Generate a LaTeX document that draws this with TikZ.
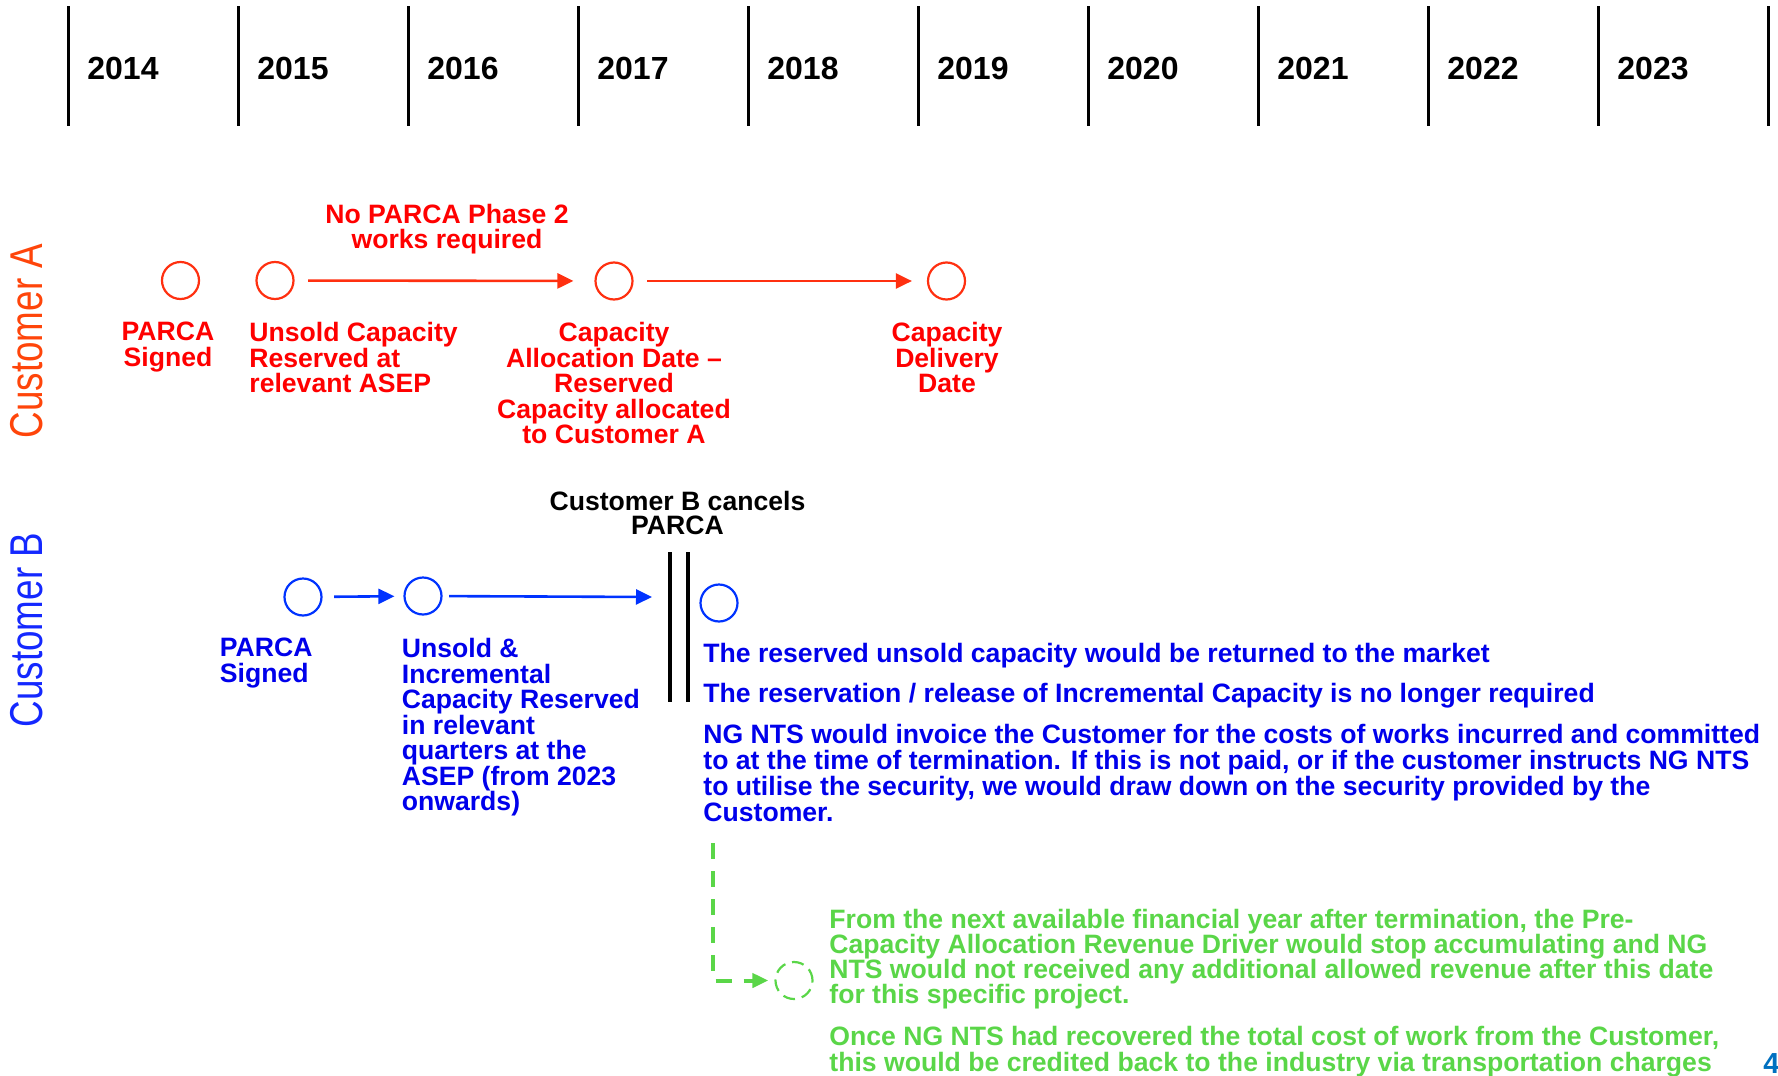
\documentclass[tikz,border=0pt]{standalone}
\usepackage{fontspec}
\setmainfont{Liberation Sans}
\usetikzlibrary{arrows.meta}

\definecolor{ared}{RGB}{255,0,0}
\definecolor{aline}{RGB}{255,48,16}
\definecolor{aname}{RGB}{255,69,10}
\definecolor{bblue}{RGB}{0,0,235}
\definecolor{bline}{RGB}{0,51,255}
\definecolor{bname}{RGB}{20,40,255}
\definecolor{cgreen}{RGB}{90,214,72}
\definecolor{pageno}{RGB}{0,112,192}

\lineskiplimit=-20pt
\lineskip=0pt

\begin{document}
\begin{tikzpicture}[x=0.5pt,y=-0.5pt,
    year/.style={font=\bfseries\fontsize{16}{18}\selectfont, anchor=west, inner sep=0pt},
    yearline/.style={line width=1.6pt},
    milestone/.style={circle, draw, line width=1.1pt, minimum size=18.5pt, inner sep=0pt},
    arr/.style={line width=1.3pt, -{Triangle[length=8pt,width=7.5pt]}},
    who/.style={font=\fontsize{23}{26}\selectfont, rotate=90, inner sep=0pt},
    redtxt/.style={text=ared, font=\bfseries\fontsize{13.3}{12.75}\selectfont, inner sep=0pt},
    bluetxt/.style={text=bblue, font=\bfseries\fontsize{13.3}{12.75}\selectfont, inner sep=0pt, align=left, anchor=north west},
    greentxt/.style={text=cgreen, font=\bfseries\fontsize{13.3}{12.5}\selectfont, inner sep=0pt, align=left, anchor=north west},
    bar/.style={line width=2.1pt}
  ]
    \useasboundingbox (0,0) rectangle (1778,1076);

    % years
    \draw[yearline] (68.5,6) -- (68.5,126);
    \draw[yearline] (238.5,6) -- (238.5,126);
    \draw[yearline] (408.5,6) -- (408.5,126);
    \draw[yearline] (578.5,6) -- (578.5,126);
    \draw[yearline] (748.5,6) -- (748.5,126);
    \draw[yearline] (918.5,6) -- (918.5,126);
    \draw[yearline] (1088.5,6) -- (1088.5,126);
    \draw[yearline] (1258.5,6) -- (1258.5,126);
    \draw[yearline] (1428.5,6) -- (1428.5,126);
    \draw[yearline] (1598.5,6) -- (1598.5,126);
    \draw[yearline] (1768.5,6) -- (1768.5,126);
    \node[year] (y2014) at (87,68.5) {2014};
    \node[year] (y2015) at (257,68.5) {2015};
    \node[year] (y2016) at (427,68.5) {2016};
    \node[year] (y2017) at (597,68.5) {2017};
    \node[year] (y2018) at (767,68.5) {2018};
    \node[year] (y2019) at (937,68.5) {2019};
    \node[year] (y2020) at (1107,68.5) {2020};
    \node[year] (y2021) at (1277,68.5) {2021};
    \node[year] (y2022) at (1447,68.5) {2022};
    \node[year] (y2023) at (1617,68.5) {2023};

    \node[who, text=aname] (custA) at (26.5,341) {\scalebox{0.8}[1]{Customer A}};
    \node[who, text=bname] (custB) at (27,630) {\scalebox{0.8}[1]{Customer B}};

    % customer A
    \node[milestone, draw=aline] (a1) at (180.5,280.5) {};
    \node[milestone, draw=aline] (a2) at (275,280.5) {};
    \node[milestone, draw=aline] (a3) at (614,281) {};
    \node[milestone, draw=aline] (a4) at (946.5,281) {};
    \draw[arr, aline, shorten <=6.7pt, shorten >=10.5pt] (a2) -- (a3);
    \draw[arr, aline, shorten <=6.7pt, shorten >=7.5pt] (a3) -- (a4);
    \node[redtxt, font=\bfseries\fontsize{13.3}{12.5}\selectfont, align=center, anchor=north] (nowork) at (447,204) {No PARCA Phase 2\\works required};
    \node[redtxt, align=center, anchor=north] (la1) at (168,322) {PARCA\\Signed};
    \node[redtxt, align=left, anchor=north west] (la2) at (249,322) {Unsold Capacity\\Reserved at\\relevant ASEP};
    \node[redtxt, align=center, anchor=north] (la3) at (614,322) {Capacity\\Allocation Date –\\Reserved\\Capacity allocated\\to Customer A};
    \node[redtxt, align=center, anchor=north] (la4) at (947,322) {Capacity\\Delivery\\Date};

    % customer B
    \node[milestone, draw=bline] (b1) at (303,597) {};
    \node[milestone, draw=bline] (b2) at (423,596) {};
    \node[milestone, draw=bline] (b3) at (719,603) {};
    \coordinate (stop) at (652,597);
    \draw[arr, bline, shorten <=5.8pt, shorten >=4.5pt] (b1) -- (b2);
    \draw[arr, bline, shorten <=3.3pt] (b2) -- (stop);
    \draw[bar] (670,552) -- (670,702);
    \draw[bar] (688,552) -- (688,702);
    \node[font=\bfseries\fontsize{13.3}{12}\selectfont, align=center, anchor=north, inner sep=0pt] (cancel) at (677.5,491) {Customer B cancels\\PARCA};
    \node[bluetxt] (lb1) at (219.5,638) {PARCA\\Signed};
    \node[bluetxt] (lb2) at (401.5,638) {Unsold \&\\Incremental\\Capacity Reserved\\in relevant\\quarters at the\\ASEP (from 2023\\onwards)};
    \node[bluetxt] (ret) at (703,643) {The reserved unsold capacity would be returned to the market};
    \node[bluetxt] (rel) at (703,683) {The reservation / release of Incremental Capacity is no longer required};
    \node[bluetxt, font=\bfseries\fontsize{13.3}{13}\selectfont] (nts) at (703,724) {NG NTS would invoice the Customer for the costs of works incurred and committed\\to at the time of termination. If this is not paid, or if the customer instructs NG NTS\\to utilise the security, we would draw down on the security provided by the\\Customer.};

    % after termination
    \coordinate (drop) at (713,843);
    \node[circle, draw=cgreen, line width=1.1pt, dash pattern=on 6pt off 3.5pt, minimum size=18.5pt, inner sep=0pt] (g1) at (794,980.5) {};
    \draw[cgreen, line width=2pt, dash pattern=on 8pt off 6pt, -{Triangle[length=8pt,width=7pt]}, shorten >=3pt] (drop) |- (g1);
    \node[greentxt] (gfrom) at (829,909) {From the next available financial year after termination, the Pre-\\Capacity Allocation Revenue Driver would stop accumulating and NG\\NTS would not received any additional allowed revenue after this date\\for this specific project.};
    \node[greentxt, font=\bfseries\fontsize{13.3}{13}\selectfont] (gonce) at (829,1026) {Once NG NTS had recovered the total cost of work from the Customer,\\this would be credited back to the industry via transportation charges};

    \node[text=pageno, font=\bfseries\fontsize{14.5}{16}\selectfont, anchor=base west, inner sep=0pt] (page) at (1763,1073) {4};
\end{tikzpicture}
\end{document}
